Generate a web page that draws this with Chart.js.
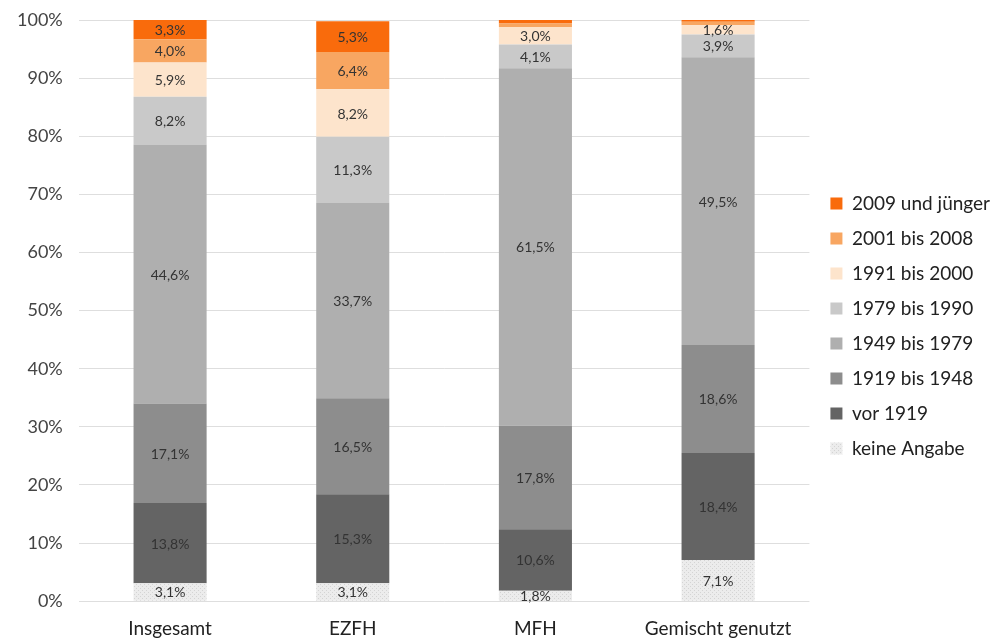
<!DOCTYPE html>
<html>
<head>
<meta charset="utf-8">
<script src="https://cdn.jsdelivr.net/npm/chart.js@4.4.0/dist/chart.umd.min.js"></script>
<style>
  html, body { margin: 0; padding: 0; background: #fff; }
  #wrap { width: 997px; height: 640px; }
</style>
</head>
<body>
<div id="wrap"><canvas id="chart" width="997" height="640"></canvas></div>
<script>
const categories = ['Insgesamt', 'EZFH', 'MFH', 'Gemischt genutzt'];

const keineAngabe = [3.1, 3.1, 1.8, 7.1];
const vor1919 = [13.8, 15.3, 10.6, 18.4];
const bis1948 = [17.1, 16.5, 17.8, 18.6];
const bis1979 = [44.6, 33.7, 61.5, 49.5];
const bis1990 = [8.2, 11.3, 4.1, 3.9];
const bis2000 = [5.9, 8.2, 3.0, 1.6];
const bis2008 = [4.0, 6.4, 0.6, 0.6];
const ab2009 = [3.3, 5.3, 0.6, 0.3];

const yTicks = [0, 10, 20, 30, 40, 50, 60, 70, 80, 90, 100];

function dotPattern() {
  const c = document.createElement('canvas');
  c.width = 4; c.height = 4;
  const g = c.getContext('2d');
  g.fillStyle = '#ececec';
  g.fillRect(0, 0, 4, 4);
  g.fillStyle = '#d4d4d4';
  g.fillRect(0, 0, 1, 1);
  g.fillRect(2, 2, 1, 1);
  return g.createPattern(c, 'repeat');
}

const fontFamily = 'Lato, "Open Sans", sans-serif';

const barLabels = {
  id: 'barLabels',
  afterDatasetsDraw(chart) {
    const ctx = chart.ctx;
    ctx.save();
    ctx.font = '14px ' + fontFamily;
    ctx.fillStyle = '#333';
    ctx.textAlign = 'center';
    ctx.textBaseline = 'middle';
    chart.data.datasets.forEach((ds, i) => {
      const meta = chart.getDatasetMeta(i);
      meta.data.forEach((bar, j) => {
        const v = ds.data[j];
        if (v < 1) return;
        const p = bar.getProps(['x', 'y', 'base'], true);
        ctx.fillText(v.toFixed(1).replace('.', ',') + '%', p.x, (p.y + p.base) / 2 + 1);
      });
    });
    ctx.restore();
  }
};

// nudge the legend a bit up and right
const legendShift = {
  id: 'legendShift',
  afterLayout(chart) {
    const lg = chart.legend;
    if (!lg) return;
    lg.top -= 8; lg.bottom -= 8;
    lg.left += 5; lg.right += 5;
  }
};

const ctx = document.getElementById('chart').getContext('2d');
new Chart(ctx, {
  type: 'bar',
  data: {
    labels: categories,
    datasets: [
      { label: 'keine Angabe', data: keineAngabe, backgroundColor: dotPattern() },
      { label: 'vor 1919', data: vor1919, backgroundColor: '#646464' },
      { label: '1919 bis 1948', data: bis1948, backgroundColor: '#8d8d8d' },
      { label: '1949 bis 1979', data: bis1979, backgroundColor: '#afafaf' },
      { label: '1979 bis 1990', data: bis1990, backgroundColor: '#c9c9c9' },
      { label: '1991 bis 2000', data: bis2000, backgroundColor: '#fde4cc' },
      { label: '2001 bis 2008', data: bis2008, backgroundColor: '#f8a661' },
      { label: '2009 und jünger', data: ab2009, backgroundColor: '#f96b0c' }
    ]
  },
  options: {
    responsive: false,
    animation: false,
    layout: { padding: { top: 20, right: 2, left: 1, bottom: -8 } },
    datasets: { bar: { categoryPercentage: 1, barPercentage: 0.4, borderWidth: 0 } },
    plugins: {
      tooltip: { enabled: false },
      legend: {
        position: 'right',
        reverse: true,
        labels: {
          boxWidth: 12,
          boxHeight: 12,
          padding: 16,
          color: '#222',
          font: { size: 19, family: fontFamily }
        }
      }
    },
    scales: {
      x: {
        stacked: true,
        grid: { display: false },
        border: { display: false },
        ticks: { color: '#222', font: { size: 19, family: fontFamily }, padding: 8 }
      },
      y: {
        stacked: true,
        min: 0,
        max: 100,
        afterBuildTicks(axis) { axis.ticks = yTicks.map(v => ({ value: v })); },
        afterFit(axis) { axis.paddingTop = 0; axis.paddingBottom = 0; },
        grid: { color: '#dedede', drawTicks: false },
        border: { display: false },
        ticks: {
          color: '#444',
          padding: 16,
          font: { size: 18, family: fontFamily },
          callback: v => v + '%'
        }
      }
    }
  },
  plugins: [barLabels, legendShift]
});
</script>
</body>
</html>
